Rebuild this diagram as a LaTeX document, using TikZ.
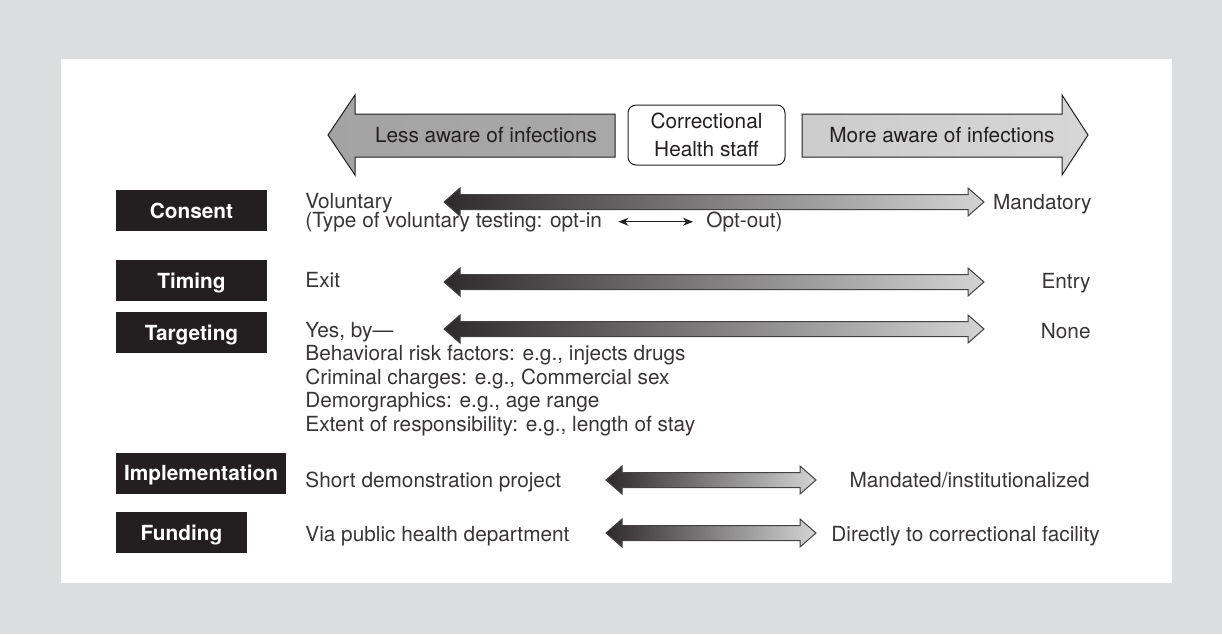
\documentclass[tikz,border=0pt]{standalone}
\usepackage{fontspec}
\setmainfont{TeX Gyre Heros}
\usepackage{tikz}
\usetikzlibrary{positioning}
\usetikzlibrary{calc}
\usetikzlibrary{arrows.meta}

\definecolor{bggray}{HTML}{DCDDDF}
\definecolor{ink}{HTML}{231F20}

\newcommand{\gradarrow}[2]{%
  \path[gradarrow] (#1) -- ++(16,-14) -- ++(0,6.5) -- ($(#2)+(-16,-7.5)$)
    -- ++(0,-6.5) -- (#2) -- ++(-16,14) -- ++(0,-6.5)
    -- ($(#1)+(16,7.5)$) -- ++(0,6.5) -- cycle;}

\begin{document}
\begin{tikzpicture}[
  x=0.5pt, y=-0.5pt,
  font=\fontsize{10.4}{13}\selectfont,
  lbl/.style={fill=ink, text=white, font=\fontsize{10.4}{13}\selectfont\bfseries,
    minimum height=20.5pt, inner sep=0pt, text height=7.5pt, text depth=0pt},
  txt/.style={anchor=base west, inner sep=0pt, text=ink!90},
  rtxt/.style={anchor=base east, inner sep=0pt, text=ink!90},
  gradarrow/.style={draw=ink!85, line width=0.5pt, left color=ink!95, right color=black!17},
  bigarrow/.style={draw=ink, line width=0.5pt}
]

\fill[bggray] (0,0) rectangle (1222,634);
\fill[white] (61,59) rectangle (1172,583);

\path[bigarrow, left color=black!36, middle color=black!47, right color=black!34]
  (328,135) -- (355,95) -- (355,114) -- (615,114) -- (615,157) -- (355,157) -- (355,175) -- cycle;
\path[bigarrow, left color=black!20, right color=black!16]
  (1088,135) -- (1062,95) -- (1062,114) -- (802,114) -- (802,157) -- (1062,157) -- (1062,175) -- cycle;
\node[text=ink] (less) at (486,135) {Less aware of infections};
\node[text=ink] (more) at (942,135) {More aware of infections};
\node[draw=ink, line width=0.5pt, rounded corners=4pt, minimum width=78.5pt, minimum height=30pt,
  inner sep=2pt, align=center, font=\fontsize{10.4}{14}\selectfont, text=ink] (staff) at (706.5,135)
  {Correctional\\Health staff};

\node[lbl, minimum width=75.5pt] (consent) at (191.5,210.5) {Consent};
\node[lbl, minimum width=75.5pt] (timing) at (191.5,280.5) {Timing};
\node[lbl, minimum width=75.5pt] (targeting) at (191.5,332.5) {Targeting};
\node[lbl, minimum width=85pt] (impl) at (201,473) {Implementation};
\node[lbl, minimum width=65.5pt] (funding) at (181.5,532.5) {Funding};

\node[txt] (vol) at (305,208) {Voluntary};
\node[txt] (optin) at (305,227) {(Type of voluntary testing: opt-in};
\node[txt] (optout) at (706,227) {Opt-out)};
\node[rtxt] (mand) at (1092,209) {Mandatory};
\coordinate (cons-l) at (444,202);
\coordinate (cons-r) at (984,202);

\node[txt] (exit) at (305,287) {Exit};
\node[rtxt] (entry) at (1091,288) {Entry};
\coordinate (tim-l) at (444,282);
\coordinate (tim-r) at (984,282);

\node[txt] (yes) at (305,337) {Yes, by—};
\node[below=11.8pt of yes.base west, txt] (behav) {Behavioral risk factors: e.g., injects drugs};
\node[below=11.8pt of behav.base west, txt] (crim) {Criminal charges: e.g., Commercial sex};
\node[below=11.8pt of crim.base west, txt] (demo) {Demorgraphics: e.g., age range};
\node[below=11.8pt of demo.base west, txt] (extent) {Extent of responsibility: e.g., length of stay};
\node[rtxt] (none) at (1091,338) {None};
\coordinate (targ-l) at (444,329);
\coordinate (targ-r) at (984,329);

\node[txt] (short) at (305,487) {Short demonstration project};
\node[rtxt] (mandinst) at (1090,487) {Mandated/institutionalized};
\coordinate (impl-l) at (606,480);
\coordinate (impl-r) at (816,480);

\node[txt] (via) at (305,541) {Via public health department};
\node[txt] (direct) at (831,541) {Directly to correctional facility};
\coordinate (fund-l) at (606,533);
\coordinate (fund-r) at (816,533);

\gradarrow{cons-l}{cons-r}
\gradarrow{tim-l}{tim-r}
\gradarrow{targ-l}{targ-r}
\gradarrow{impl-l}{impl-r}
\gradarrow{fund-l}{fund-r}

\path (optin.mid east) edge[{Stealth[length=5pt,width=4pt]}-{Stealth[length=5pt,width=4pt]},
  draw=ink, line width=0.6pt, shorten <=8pt, shorten >=6.5pt] (optout.mid west);

\end{tikzpicture}
\end{document}
